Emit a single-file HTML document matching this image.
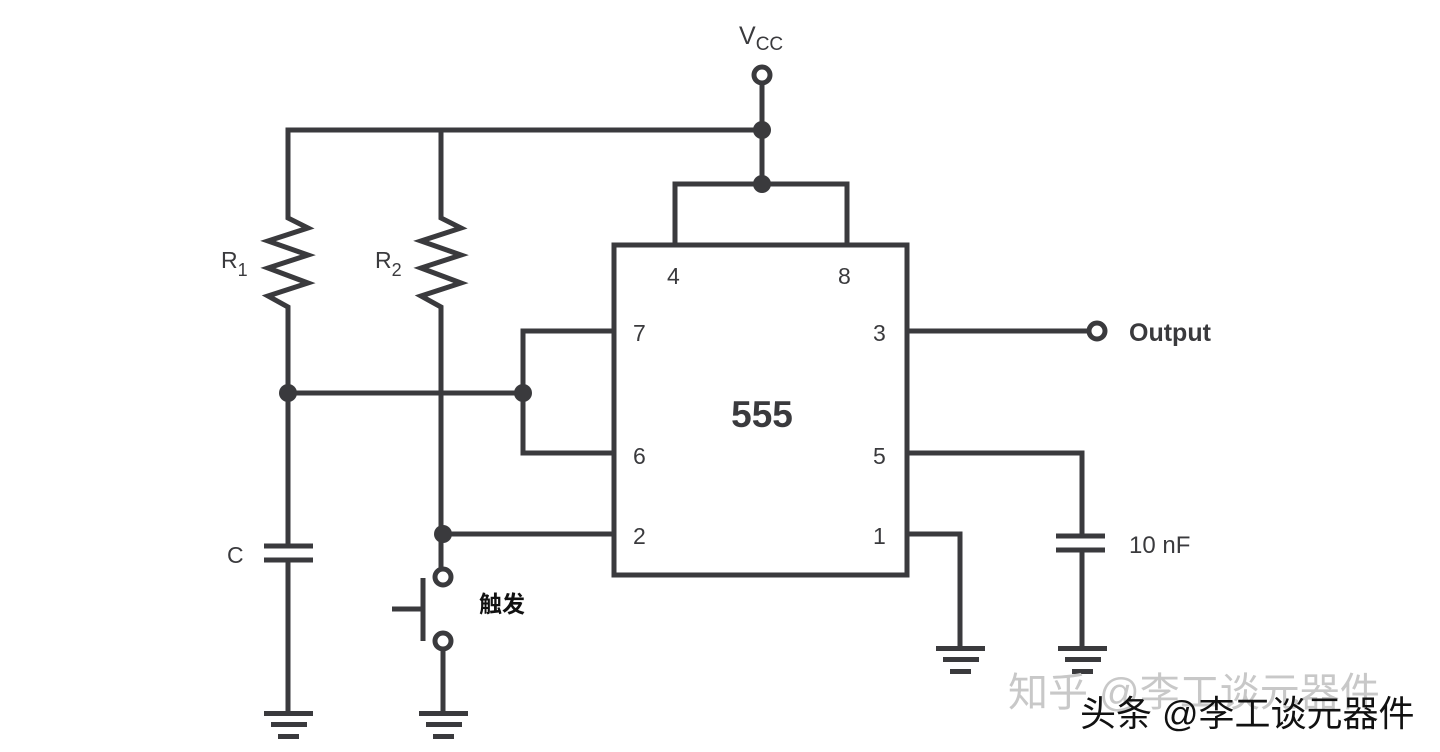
<!DOCTYPE html>
<html><head><meta charset="utf-8"><style>
html,body{margin:0;padding:0;background:#fff;}
svg{display:block;}
text{font-family:"Liberation Sans","Noto Sans CJK SC",sans-serif;fill:#3a3a3d;}
</style></head><body>
<svg width="1440" height="752" viewBox="0 0 1440 752" xmlns="http://www.w3.org/2000/svg">
<g stroke="#3a3a3d" stroke-width="5" fill="none" stroke-linejoin="miter">
<circle cx="762" cy="75" r="8"/>
<line x1="762" y1="83" x2="762" y2="184"/>
<polyline points="288,215 288,130 762,130"/>
<line x1="441" y1="130" x2="441" y2="215"/>
<polyline points="675,245 675,184 847,184 847,245"/>
<polyline points="288,215 288,218 308,228 268,241 308,255 268,268 308,283 268,296 288,307 288,546"/>
<polyline points="441,215 441,218 461,228 421,241 461,255 421,268 461,283 421,296 441,307 441,569"/>
<line x1="264" y1="546" x2="313" y2="546"/>
<line x1="264" y1="560" x2="313" y2="560"/>
<line x1="288" y1="560" x2="288" y2="713"/>
<line x1="288" y1="393" x2="523" y2="393"/>
<polyline points="614,331 523,331 523,453 614,453"/>
<line x1="441" y1="534" x2="614" y2="534"/>
<circle cx="443" cy="577" r="8"/>
<circle cx="443" cy="641" r="8"/>
<line x1="423" y1="578" x2="423" y2="641"/>
<line x1="392" y1="609" x2="423" y2="609"/>
<line x1="443" y1="649" x2="443" y2="713"/>
<rect x="614" y="245" width="293" height="330"/>
<line x1="907" y1="331" x2="1089" y2="331"/>
<circle cx="1097" cy="331" r="8"/>
<polyline points="907,453 1082,453 1082,536"/>
<line x1="1056" y1="536" x2="1105" y2="536"/>
<line x1="1056" y1="550" x2="1105" y2="550"/>
<line x1="1082" y1="550" x2="1082" y2="648"/>
<polyline points="907,534 960,534 960,648"/>
</g>
<g fill="#3a3a3d">
<circle cx="762" cy="130" r="9"/>
<circle cx="762" cy="184" r="9"/>
<circle cx="288" cy="393" r="9"/>
<circle cx="523" cy="393" r="9"/>
<circle cx="443" cy="534" r="9"/>
<rect x="264" y="711" width="49" height="5"/><rect x="271" y="722" width="36" height="5"/><rect x="278" y="734" width="21" height="5"/>
<rect x="419" y="711" width="49" height="5"/><rect x="426" y="722" width="36" height="5"/><rect x="433" y="734" width="21" height="5"/>
<rect x="936" y="646" width="49" height="5"/><rect x="943" y="657" width="36" height="5"/><rect x="950" y="669" width="21" height="5"/>
<rect x="1058" y="646" width="49" height="5"/><rect x="1065" y="657" width="36" height="5"/><rect x="1072" y="669" width="21" height="5"/>
</g>
<g font-size="23">
<text x="667" y="284">4</text><text x="838" y="284">8</text>
<text x="633" y="341">7</text><text x="873" y="341">3</text>
<text x="633" y="464">6</text><text x="873" y="464">5</text>
<text x="633" y="544">2</text><text x="873" y="544">1</text>
</g>
<text x="762" y="427" font-size="37" font-weight="bold" text-anchor="middle">555</text>
<text x="739" y="44" font-size="25">V<tspan font-size="19" dy="6">CC</tspan></text>
<text x="221" y="268" font-size="23">R<tspan font-size="18" dy="8">1</tspan></text>
<text x="375" y="268" font-size="23">R<tspan font-size="18" dy="8">2</tspan></text>
<text x="227" y="563" font-size="23">C</text>
<text x="1129" y="341" font-size="25" font-weight="bold">Output</text>
<text x="1129" y="553" font-size="24">10 nF</text>
<text x="479" y="612" font-size="23" font-weight="bold" style="fill:#111">触发</text>
<text x="1008" y="706" font-size="40" style="fill:#c8c8c8">知乎 @李工谈元器件</text>
<text x="1080" y="726" font-size="36" style="fill:#111">头条 @李工谈元器件</text>
</svg>
</body></html>
